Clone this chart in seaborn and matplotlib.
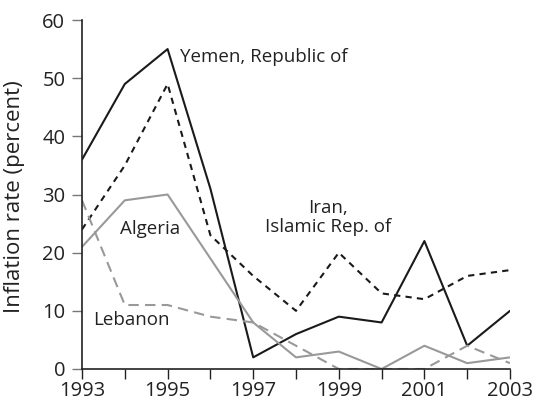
import matplotlib
matplotlib.use("Agg")
import matplotlib.pyplot as plt
import seaborn as sns
import pandas as pd

years = list(range(1993, 2004))
yemen = [36, 49, 55, 31, 2, 6, 9, 8, 22, 4, 10]
iran = [24, 35, 49, 23, 16, 10, 20, 13, 12, 16, 17]
algeria = [21, 29, 30, 19, 8, 2, 3, 0, 4, 1, 2]
lebanon = [29, 11, 11, 9, 8, 4, 0, 0, 0, 4, 1]

series = {
    "Yemen, Republic of": yemen,
    "Iran, Islamic Rep. of": iran,
    "Algeria": algeria,
    "Lebanon": lebanon,
}
rows = []
for name, vals in series.items():
    for y, v in zip(years, vals):
        rows.append({"year": y, "value": v, "country": name})
df = pd.DataFrame(rows)

sns.set_theme(style="ticks")
plt.rcParams["font.family"] = ["Open Sans", "DejaVu Sans"]

fig = plt.figure(figsize=(5.35, 4.12), dpi=100)
ax = fig.add_axes([82/535, 1 - 369/412, (510-82)/535, (369-20)/412])

palette = {
    "Yemen, Republic of": "#1a1a1a",
    "Iran, Islamic Rep. of": "#1a1a1a",
    "Algeria": "#999999",
    "Lebanon": "#999999",
}
dashes = {
    "Yemen, Republic of": "",
    "Iran, Islamic Rep. of": (3, 2.5),
    "Algeria": "",
    "Lebanon": (5, 3),
}
sns.lineplot(data=df, x="year", y="value", hue="country", style="country",
             palette=palette, dashes=dashes, linewidth=1.5, legend=False, ax=ax)

ax.set_xlim(1993, 2003)
ax.set_ylim(0, 60)
ax.set_xticks(years)
ax.set_xticklabels([str(y) if y % 2 == 1 else "" for y in years])
ax.set_yticks([0, 10, 20, 30, 40, 50, 60])
ax.tick_params(axis="x", direction="out", length=7, width=1, color="#222222",
               labelsize=14.5, labelcolor="#222222", pad=2)
ax.tick_params(axis="y", direction="out", length=7, width=1, color="#777777",
               labelsize=14.5, labelcolor="#222222", pad=5)
for s in ["top", "right"]:
    ax.spines[s].set_visible(False)
for s in ["left", "bottom"]:
    ax.spines[s].set_linewidth(1.2)
    ax.spines[s].set_color("#222222")
ax.set_xlabel("")
ax.set_ylabel("Inflation rate (percent)", fontsize=16, color="#222222")
ax.yaxis.set_label_coords(-0.133, 0.493)

tc = "#222222"
fs = 13.5
ax.text(1995.3, 53.6, "Yemen, Republic of", fontsize=fs, color=tc, va="center", ha="left")
ax.text(1998.75, 26, "Iran,\nIslamic Rep. of", fontsize=fs, color=tc, va="center",
        ha="center", multialignment="center", linespacing=1.1)
ax.text(1994.6, 24, "Algeria", fontsize=fs, color=tc, va="center", ha="center")
ax.text(1993.26, 8.4, "Lebanon", fontsize=fs, color=tc, va="center", ha="left")

fig.savefig("out.png", dpi=100)
